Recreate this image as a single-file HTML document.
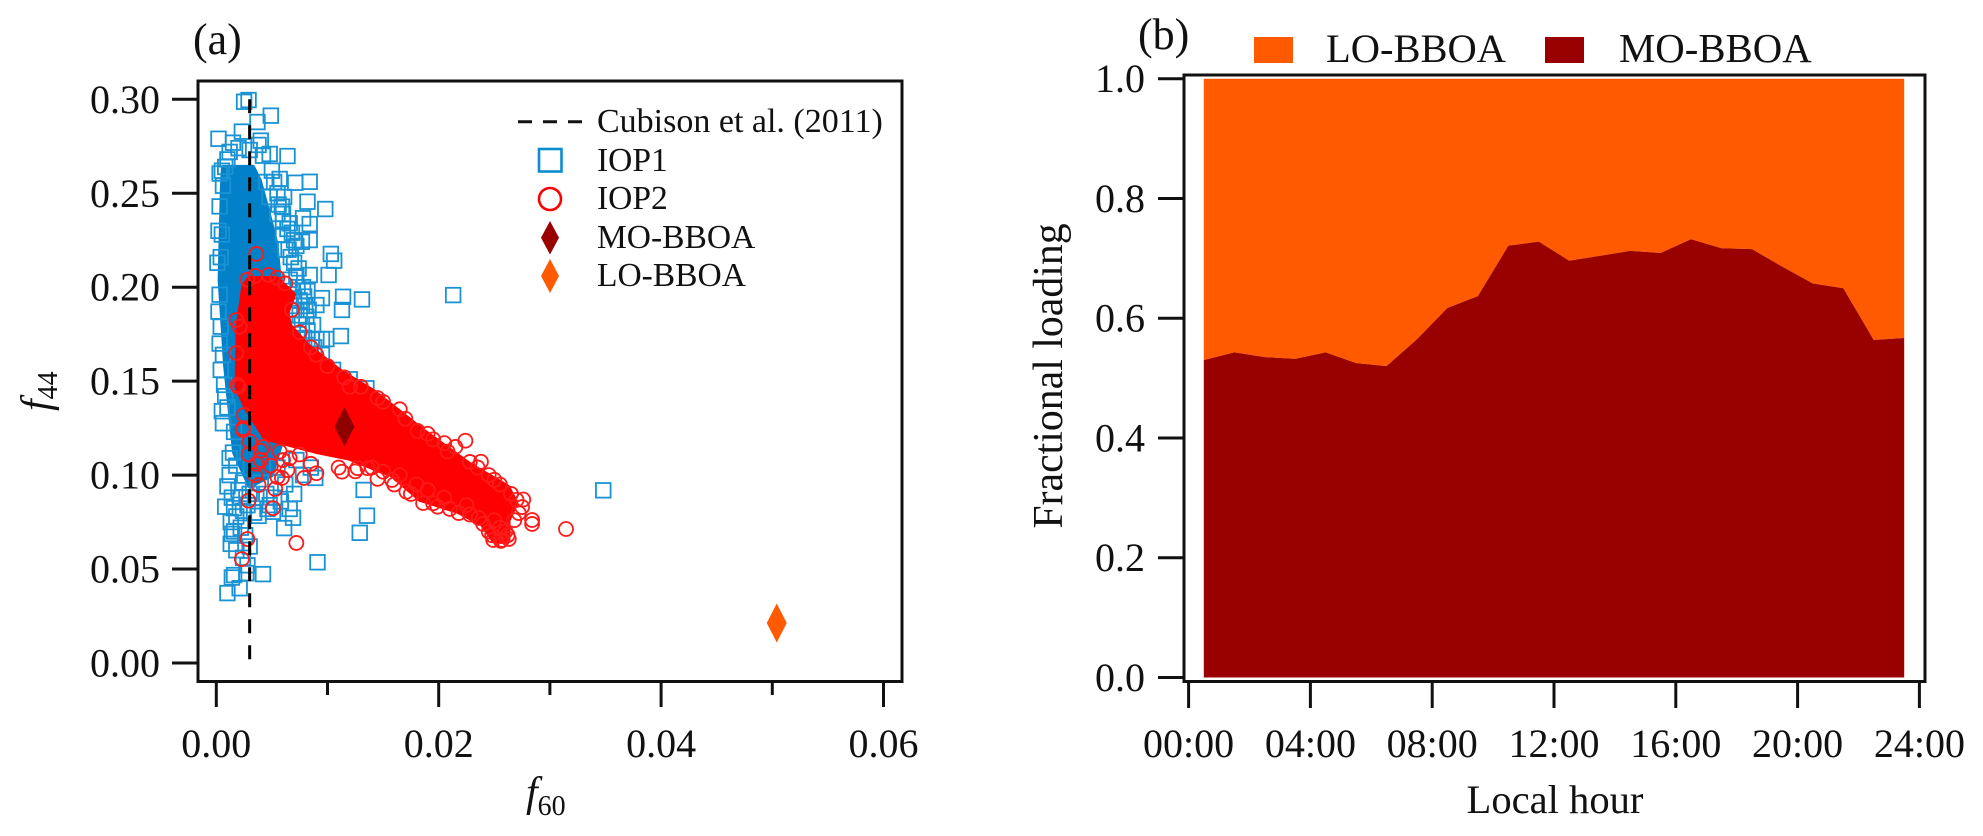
<!DOCTYPE html>
<html lang="en">
<head>
<meta charset="utf-8">
<title>f44 vs f60 scatter and BBOA fractional loading</title>
<style>
  html, body { margin: 0; padding: 0; background: #fff; }
  svg { display: block; }
  text { font-family: "Liberation Serif", serif; fill: #111; }
</style>
</head>
<body>
<svg id="chart" xmlns="http://www.w3.org/2000/svg" width="1983" height="836" viewBox="0 0 1983 836">
  <rect x="0" y="0" width="1983" height="836" fill="#fff"/>

  <text x="193" y="54" font-size="44">(a)</text>
  <text x="1138" y="49" font-size="44">(b)</text>

  <g id="panelA"></g>
  <g id="panelB"></g>

  <rect x="198" y="81" width="704" height="600.5" fill="none" stroke="#111" stroke-width="3"/>
  <rect x="1184" y="75" width="741" height="606.5" fill="none" stroke="#111" stroke-width="3"/>

  <text x="526" y="806" font-size="42" font-style="italic">f<tspan font-size="28" font-style="normal" dy="9">60</tspan></text>
  <text transform="translate(50,411) rotate(-90)" font-size="42" font-style="italic">f<tspan font-size="28" font-style="normal" dy="7">44</tspan></text>
  <text x="1555" y="813" font-size="40.6" text-anchor="middle">Local hour</text>
  <text transform="translate(1062,376) rotate(-90)" font-size="41.8" text-anchor="middle">Fractional loading</text>

  <g>
    <line x1="518" y1="121.7" x2="582" y2="121.7" stroke="#111" stroke-width="3" stroke-dasharray="14 11"/>
    <text x="597" y="132" font-size="34">Cubison et al. (2011)</text>
    <rect x="539" y="149" width="22.5" height="22.5" fill="none" stroke="#0d8ccf" stroke-width="2.6"/>
    <text x="597" y="171" font-size="33.5">IOP1</text>
    <circle cx="550" cy="199" r="11" fill="none" stroke="#ff0000" stroke-width="2.6"/>
    <text x="597" y="209" font-size="33.5">IOP2</text>
    <path d="M550 221 L559 237.7 L550 254.5 L541 237.7 Z" fill="#990000"/>
    <text x="597" y="248" font-size="33.5">MO-BBOA</text>
    <path d="M550 259 L559 276 L550 293 L541 276 Z" fill="#ff5a00"/>
    <text x="597" y="286" font-size="33.5">LO-BBOA</text>
  </g>

  <g>
    <rect x="1254" y="37" width="39" height="26" fill="#ff5a00"/>
    <text x="1326" y="62" font-size="40.5">LO-BBOA</text>
    <rect x="1545" y="37" width="39" height="26" fill="#990000"/>
    <text x="1619" y="62" font-size="40.8">MO-BBOA</text>
  </g>
</svg>

<script>
// ---- Panel (a) data ----
const f60Ticks = [0, 0.01, 0.02, 0.03, 0.04, 0.05, 0.06];
const f60TickLabels = ["0.00", "", "0.02", "", "0.04", "", "0.06"];
const f44Ticks = [0, 0.05, 0.10, 0.15, 0.20, 0.25, 0.30];
const f44TickLabels = ["0.00", "0.05", "0.10", "0.15", "0.20", "0.25", "0.30"];

const iop1F60 = [
  .0029,.0025,.0049,.0037,.0002,.0023,.0015,.0038,.0048,.0064,
  .0057,.0071,.0084,.0082,.0098,.0084,.0078,.0059,.0060,.0084,
  .0077,.0103,.0106,.0101,.0131,.0114,.0113,.0095,.0090,.0112,
  .0099,.0095,.0090,.0086,.0087,.0081,.0084,.0135,.0213,.0348,
  .01325,.01355,.0129,.0091,.0042,.0061,.0066,.0069,.0089,.0051,
  .0010,.0021,.0016,.0014,.0027,.0008,.0016,.0024,.0013,.0014,
  .0013,.0038,.0046,.0006,.0003,.0006,.0005,.0004,.0003,.0004,
  .0006,.0007,.0010,.0016,.0015,.0012,.0018,.0024,.0040,.0055,
  .0072,.0060,.0065,.0070,.0072,.0078,.0066,.0082,.0075,.0080,
  .0072,.0077,.0085,.0090,.0100,.0115,.0055,.0050,.0042,.0010,
  .0008,.0030,.0020,.0062,.0055,.0070,.0048,.0068,.0074,.0066,
  .0030,.0036,.0045,.0052,.0058,.0022,.0028,.0034,.0018,.0022,
  .0026,.0030,.0018,.0024,.0028,.0070,.0078,.0085,.0062,.0048,
  .0012,.0010,.0020,.0014,.0016,.0056,.0052,.0060,.0064,.0068,
  .0072,.0067,.0073,.0079,.0083,.0070,.0075,.0066,.0082,.0079,
  .0074,.0088,.0095,.0105,.0120,.0061,.0045,.0040,.0012,.0005,
  .0003,.0002,.0001,.0002,.0003,.0004,.0008,.0005
];
const iop1F44 = [
  .2996,.2987,.2913,.2879,.2790,.2828,.2769,.2757,.2709,.2698,
  .2576,.2556,.2561,.2455,.2416,.2336,.2367,.2429,.2349,.2251,
  .2242,.2177,.2141,.2065,.1935,.1949,.1879,.1942,.1905,.1740,
  .1724,.1724,.1724,.1724,.1799,.1843,.2065,.1462,.1958,.0919,
  .0921,.0784,.0693,.0536,.0473,.0718,.0820,.0773,.0985,.0805,
  .0372,.0398,.0468,.0455,.0478,.0832,.0824,.0810,.0750,.0687,
  .0634,.0783,.0820,.1276,.2605,.2540,.2280,.2160,.1960,.1790,
  .1640,.1480,.1360,.1230,.1120,.1090,.1050,.0960,.0960,.1040,
  .1080,.2280,.2200,.2130,.2060,.2000,.2040,.1980,.1930,.1900,
  .1880,.1800,.1640,.1600,.1540,.1480,.2500,.2620,.2700,.2680,
  .2640,.2730,.2740,.2200,.2390,.2250,.2480,.1980,.2100,.2340,
  .0900,.0880,.0900,.0880,.0860,.0880,.0840,.0800,.0780,.0720,
  .0680,.0620,.0600,.0560,.0520,.0900,.1000,.1040,.0950,.0840,
  .1000,.0940,.0920,.0880,.0700,.2440,.2560,.2390,.2310,.2290,
  .2220,.2160,.2000,.1950,.1880,.1940,.1850,.1900,.1770,.1730,
  .1750,.1680,.1640,.1560,.1510,.2480,.2560,.2780,.2720,.2620,
  .2430,.2300,.2130,.1870,.1700,.1560,.1420,.1340
];
// Saturated core of IOP1 where markers overlap completely
const iop1CoreF60 = [.0006,.0033,.0039,.0047,.0054,.0056,.0060,.0060,.0050,.0030,.0016,.0008,.0003,.0005];
const iop1CoreF44 = [.2640,.2640,.2570,.2395,.2235,.2108,.1800,.1200,.1000,.0940,.1120,.1577,.2038,.2535];

const iop2F60 = [
  .0224,.03145,.0284,.0284,.0072,.0023,.0028,.0029,.0051,.0113,
  .0136,.0127,.0079,.0090,.0038,.0053,.0059,.0064,.0036,.0057,
  .0030,.0024,.0036,.0047,.0181,.0238,.0208,.0270,.0272,.0257,
  .0249,.0263,.0186,.0199,.0218,.0236,.0245,.0158,.0171,.0150,
  .0020,.0021,.0018,.0018,.0019,.0025,.0024,.0029,.0042,.0035,
  .0049,.0066,.0075,.0040,.0055,.0145,.0165,.0195,.0215,.0228,
  .0120,.0100,.0245,.0255,.0265,.0275,.0205,.0225,.0190,.0180,
  .0255,.0250,.0260,.0165,.0140,.0085,.0035,.0055,
  .0130,.0150,.0170,.0190,.0205,.0235,.0250,.0115,.0090,.0075,
  .0068,.0062,.0028,.0040,.0060,.0085,.0110,.0125,.0145,.0160,
  .0175,.0195,.0210,.0228,.0240,.0248,.0256,.0262,.0268,.0276
];
const iop2F44 = [
  .1183,.0713,.0740,.0761,.0639,.0553,.0660,.0864,.0824,.1018,
  .1037,.1037,.0985,.1010,.0947,.0926,.0985,.1027,.1060,.1125,
  .1180,.1250,.2177,.2065,.1235,.1071,.1125,.0868,.0798,.0655,
  .0655,.0660,.0851,.0832,.0798,.0772,.0699,.0974,.0912,.1018,
  .1470,.1790,.1825,.1650,.1480,.1320,.1240,.1110,.1150,.1000,
  .1050,.1090,.1110,.1080,.0990,.1410,.1350,.1190,.1150,.1070,
  .1470,.1580,.1000,.0950,.0900,.0830,.0880,.0840,.0920,.0950,
  .0720,.0760,.0700,.1000,.1040,.1680,.2060,.2050,
  .1470,.1390,.1300,.1220,.1170,.1040,.0975,.1520,.1640,.1760,
  .1880,.2020,.2040,.1130,.1080,.1060,.1040,.1020,.0980,.0950,
  .0900,.0850,.0820,.0790,.0740,.0680,.0650,.0680,.0760,.0870
];
// Saturated core of IOP2 where markers overlap completely
const iop2CoreF60 = [.0026,.0030,.0054,.0068,.0062,.0065,.0081,.0112,.0140,.0185,.0228,.0236,.0261,.0268,.0261,.0261,.0251,.0240,.0218,.0184,.0158,.0150,.0120,.0090,.0045,.0028,.0020,.0021];
const iop2CoreF44 = [.2003,.2038,.2038,.1958,.1862,.1790,.1683,.1540,.1440,.1230,.1045,.1018,.0931,.0851,.0761,.0655,.0655,.0745,.0814,.0878,.1011,.1027,.1098,.1134,.1204,.1364,.1470,.1790];

const cubisonF60 = [0.003, 0.003];
const cubisonF44 = [0.30, 0.0];
const moBboaPoint = [0.01153, 0.1258];
const loBboaPoint = [0.0504, 0.0213];

// ---- Panel (b) data ----
const hourTicks = [0, 4, 8, 12, 16, 20, 24];
const hourTickLabels = ["00:00", "04:00", "08:00", "12:00", "16:00", "20:00", "24:00"];
const loadTicks = [0, 0.2, 0.4, 0.6, 0.8, 1.0];
const loadTickLabels = ["0.0", "0.2", "0.4", "0.6", "0.8", "1.0"];
const hours = [0.5,1.5,2.5,3.5,4.5,5.5,6.5,7.5,8.5,9.5,10.5,11.5,12.5,13.5,14.5,15.5,16.5,17.5,18.5,19.5,20.5,21.5,22.5,23.5];
const moBboaFraction = [.53,.543,.535,.532,.543,.525,.52,.565,.617,.637,.721,.728,.696,.704,.7125,.709,.732,.717,.7155,.686,.658,.65,.5636,.567];
const loBboaFraction = [.47,.457,.465,.468,.457,.475,.48,.435,.383,.363,.279,.272,.304,.296,.2875,.291,.268,.283,.2845,.314,.342,.35,.4364,.433];

// ---- Axis functions ----
const ax = v => 216.3 + 11120 * v;
const ay = v => 663 - 1879 * v;
const bx = v => 1188.6 + 30.45 * v;
const by = v => 677.5 - 598.8 * v;

const NS = "http://www.w3.org/2000/svg";
function make(tag, parent, attrs) {
  const el = document.createElementNS(NS, tag);
  for (const k in attrs) el.setAttribute(k, attrs[k]);
  parent.appendChild(el);
  return el;
}
function pts(xs, ys, fx, fy) {
  return xs.map((x, i) => fx(x).toFixed(1) + "," + fy(ys[i]).toFixed(1)).join(" ");
}
const A = document.getElementById("panelA");
const B = document.getElementById("panelB");

// IOP1 core + squares
const iop1Core = make("polygon", A, { points: pts(iop1CoreF60, iop1CoreF44, ax, ay), fill: "#0280c8", stroke: "#0280c8", "stroke-width": 4, "stroke-linejoin": "round" });


iop1F60.forEach((v, i) => {
  const s = make("rect", A, { x: ax(v) - 7.3, y: ay(iop1F44[i]) - 7.3, width: 14.6, height: 14.6, fill: "none", stroke: "#1a93d4", "stroke-width": 1.8 });
  
  
});

// IOP2 core + circles
const iop2Core = make("polygon", A, { points: pts(iop2CoreF60, iop2CoreF44, ax, ay), fill: "#ff0000", stroke: "#ff0000", "stroke-width": 8, "stroke-linejoin": "round" });


iop2F60.forEach((v, i) => {
  const c = make("circle", A, { cx: ax(v), cy: ay(iop2F44[i]), r: 7, fill: "none", stroke: "#ff1a1a", "stroke-width": 1.8 });
  
  
});

// Cubison line
const cub = make("line", A, { x1: ax(cubisonF60[0]), y1: ay(cubisonF44[0]), x2: ax(cubisonF60[1]), y2: ay(cubisonF44[1]), stroke: "#000", "stroke-width": 3, "stroke-dasharray": "14 12" });



// Diamonds
function diamond(p, fill) {
  const x = ax(p[0]), y = ay(p[1]);
  return make("path", A, { d: `M${x} ${y - 19.5}L${x + 10} ${y}L${x} ${y + 19.5}L${x - 10} ${y}Z`, fill: fill });
}
const moD = diamond(moBboaPoint, "#8f0000");


const loD = diamond(loBboaPoint, "#ff5a00");



// Panel a ticks
f60Ticks.forEach((v, i) => {
  const major = f60TickLabels[i] !== "";
  const t = make("line", A, { x1: ax(v), x2: ax(v), y1: 681, y2: major ? 707 : 695, stroke: "#111", "stroke-width": 3 });
  
  
  if (major) {
    const l = make("text", A, { x: ax(v), y: 757, "font-size": 40, "text-anchor": "middle" });
    l.textContent = f60TickLabels[i];
    
    
  }
});
f44Ticks.forEach((v, i) => {
  const t = make("line", A, { x1: 172, x2: 198, y1: ay(v), y2: ay(v), stroke: "#111", "stroke-width": 3 });
  
  
  const l = make("text", A, { x: 160, y: ay(v) + 13.5, "font-size": 40, "text-anchor": "end" });
  l.textContent = f44TickLabels[i];
  
  
});

// Panel b stacked areas
const baseline = hours.map(() => 0);
const moTop = moBboaFraction;
const loTop = moBboaFraction.map((v, i) => v + loBboaFraction[i]);
function areaPoints(top, bottom) {
  const upper = hours.map((h, i) => bx(h).toFixed(1) + "," + by(top[i]).toFixed(1));
  const lower = hours.map((h, i) => bx(h).toFixed(1) + "," + by(bottom[i]).toFixed(1)).reverse();
  return upper.concat(lower).join(" ");
}
const loArea = make("polygon", B, { points: areaPoints(loTop, moTop), fill: "#ff5a00" });


const moArea = make("polygon", B, { points: areaPoints(moTop, baseline), fill: "#990000" });



// Panel b ticks
hourTicks.forEach((v, i) => {
  const t = make("line", B, { x1: bx(v), x2: bx(v), y1: 681, y2: 708, stroke: "#111", "stroke-width": 3 });
  
  
  const l = make("text", B, { x: bx(v), y: 757, "font-size": 40, "text-anchor": "middle" });
  l.textContent = hourTickLabels[i];
  
  
});
loadTicks.forEach((v, i) => {
  const t = make("line", B, { x1: 1158, x2: 1184, y1: by(v), y2: by(v), stroke: "#111", "stroke-width": 3 });
  
  
  const l = make("text", B, { x: 1145, y: by(v) + 13.5, "font-size": 40, "text-anchor": "end" });
  l.textContent = loadTickLabels[i];
  
  
});
</script>
</body>
</html>
